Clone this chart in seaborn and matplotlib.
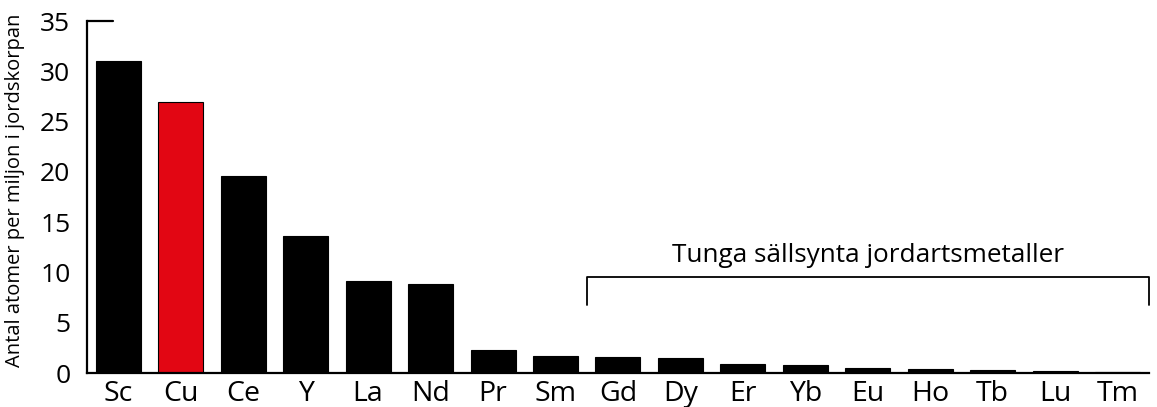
#!/usr/bin/env python3
"""Abundance of rare earth elements (and copper) in the Earth's crust."""
import numpy as np
import pandas as pd
import matplotlib
matplotlib.use("Agg")
import matplotlib.pyplot as plt
import seaborn as sns

# Data
elements = ["Sc", "Cu", "Ce", "Y", "La", "Nd", "Pr", "Sm", "Gd", "Dy",
            "Er", "Yb", "Eu", "Ho", "Tb", "Lu", "Tm"]
abundance = [31.0, 27.0, 19.6, 13.6, 9.15, 8.85, 2.3, 1.7, 1.55, 1.45,
             0.86, 0.76, 0.53, 0.37, 0.27, 0.17, 0.13]
highlight = ["Cu"]
heavy_group = ["Gd", "Dy", "Er", "Yb", "Eu", "Ho", "Tb", "Lu", "Tm"]
yticks = [0, 5, 10, 15, 20, 25, 30, 35]

df = pd.DataFrame({"element": elements, "abundance": abundance})
colors = ["#E20613" if e in highlight else "black" for e in elements]

sns.set_style("white")
plt.rcParams["font.family"] = ["Open Sans", "DejaVu Sans"]
for key in ["text.color", "axes.labelcolor", "xtick.color", "ytick.color"]:
    plt.rcParams[key] = "black"

fig = plt.figure(figsize=(11.57, 4.07), dpi=100)
ax = fig.add_axes([0.0752, 0.0835, 0.9178, 0.8645])

sns.barplot(data=df, x="element", y="abundance", hue="element",
            palette=colors, saturation=1, legend=False, width=0.72,
            edgecolor="black", linewidth=0.8, ax=ax)

ax.set_xlim(-0.5, len(elements) - 0.5)
ax.set_ylim(0, 35)
ax.set_yticks(yticks)
ax.set_xlabel("")
ax.set_ylabel("Antal atomer per miljon i jordskorpan", fontsize=14.5)
ax.yaxis.set_label_coords(-0.058, 0.52)

for side in ["top", "right"]:
    ax.spines[side].set_visible(False)
for side in ["left", "bottom"]:
    ax.spines[side].set_linewidth(1.6)
    ax.spines[side].set_color("black")

ax.tick_params(axis="y", direction="in", length=6, width=1.6, labelsize=19, pad=12)
ax.tick_params(axis="x", which="major", length=0, labelsize=20.5, pad=5)
ax.set_xticks(np.arange(0.5, len(elements)), minor=True)
ax.tick_params(axis="x", which="minor", direction="in", length=6, width=1.6)

# longer top tick at 35
ax.plot([-0.5, -0.08], [35, 35], color="black", lw=1.6, clip_on=False)

# bracket over the heavy rare earth group
first = elements.index(heavy_group[0]) - 0.5
last = elements.index(heavy_group[-1]) + 0.5
ax.plot([first, first, last, last], [6.8, 9.55, 9.55, 6.8],
        color="black", lw=1.3, clip_on=False)
ax.text((first + last) / 2, 11.0, "Tunga sällsynta jordartsmetaller",
        ha="center", va="baseline", fontsize=18.8)

fig.savefig("out.png", dpi=100)
